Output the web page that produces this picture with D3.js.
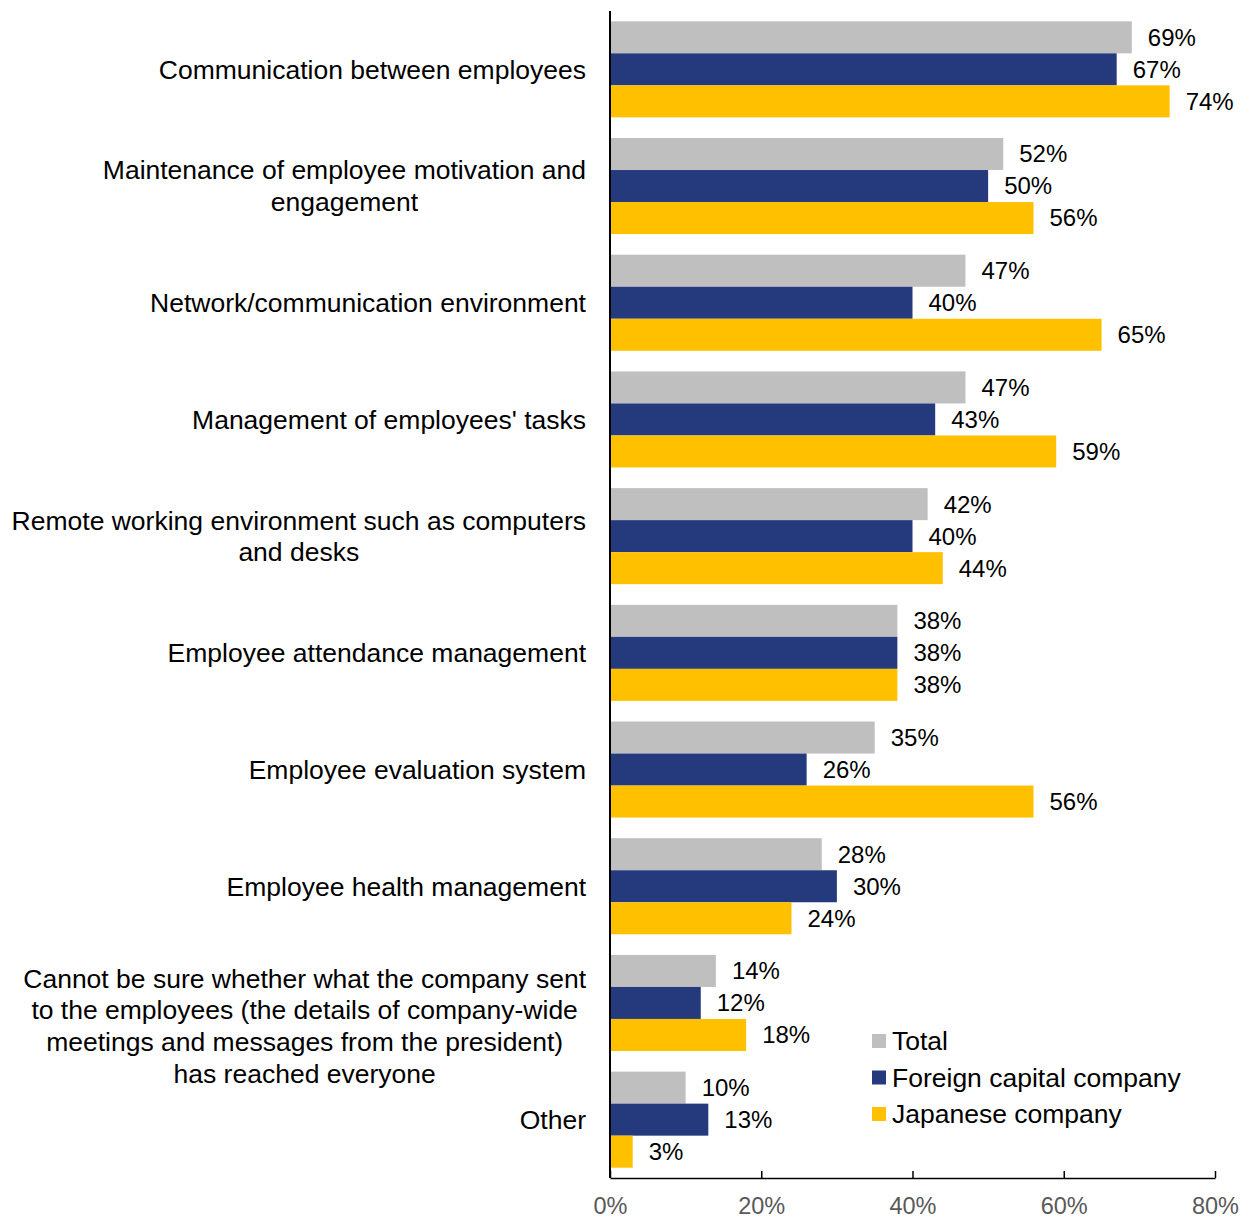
<!DOCTYPE html>
<html>
<head>
<meta charset="utf-8">
<script src="https://cdn.jsdelivr.net/npm/d3@7"></script>
<style>
  html, body { margin: 0; padding: 0; background: #fff; }
  svg { display: block; font-family: "Liberation Sans", Arial, sans-serif; }
</style>
</head>
<body>
<svg id="chart" width="1252" height="1218"></svg>
<script>
// Issues with remote working, by company type (share of respondents)
const categories = [
  ["Communication between employees"],
  ["Maintenance of employee motivation and", "engagement"],
  ["Network/communication environment"],
  ["Management of employees' tasks"],
  ["Remote working environment such as computers", "and desks"],
  ["Employee attendance management"],
  ["Employee evaluation system"],
  ["Employee health management"],
  ["Cannot be sure whether what the company sent", "to the employees (the details of company-wide", "meetings and messages from the president)", "has reached everyone"],
  ["Other"]
];
const seriesNames = ["Total", "Foreign capital company", "Japanese company"];
const totalValues    = [69, 52, 47, 47, 42, 38, 35, 28, 14, 10];
const foreignValues  = [67, 50, 40, 43, 40, 38, 26, 30, 12, 13];
const japaneseValues = [74, 56, 65, 59, 44, 38, 56, 24, 18, 3];
const seriesColors = ["#BFBFBF", "#243A7D", "#FFC000"];
const xTicks = [0, 20, 40, 60, 80];

const svg = d3.select("#chart");
const plot = { left: 610, right: 1215, top: 11, bottom: 1178 };
const labelFont = 26.5;

const catKeys = categories.map((c, i) => "c" + i);
const seriesValues = [totalValues, foreignValues, japaneseValues];

const x = d3.scaleLinear().domain([0, 80]).range([plot.left, plot.right]);
const y = d3.scaleBand().domain(catKeys).range([plot.top, plot.bottom])
  .paddingInner(0.177).paddingOuter(0.0885);
const ySub = d3.scaleBand().domain(seriesNames).range([0, y.bandwidth()]).padding(0);

// bars with value labels
const groups = svg.append("g").selectAll("g")
  .data(catKeys)
  .join("g")
  .attr("transform", k => `translate(0,${y(k)})`);

groups.each(function(k, i) {
  const g = d3.select(this);
  seriesNames.forEach((s, j) => {
    const v = seriesValues[j][i];
    g.append("rect")
      .attr("x", x(0))
      .attr("y", ySub(s))
      .attr("width", x(v) - x(0))
      .attr("height", ySub.bandwidth())
      .attr("fill", seriesColors[j]);
    g.append("text")
      .attr("x", x(v) + 16)
      .attr("y", ySub(s) + ySub.bandwidth() / 2)
      .attr("dy", "0.35em")
      .attr("font-size", 24)
      .attr("fill", "#000")
      .text(v + "%");
  });
});

// category labels: lines centred on each other, block right-aligned to the axis
const labelRight = 586;
const lineH = 31.7;
categories.forEach((lines, i) => {
  const g = svg.append("g");
  const texts = lines.map(l => g.append("text")
    .attr("font-size", labelFont).attr("fill", "#000").attr("text-anchor", "middle").text(l));
  const maxW = d3.max(texts, t => t.node().getComputedTextLength());
  const cx = labelRight - maxW / 2;
  const center = y(catKeys[i]) + y.bandwidth() / 2 + (lines.length > 2 ? 23 : 0);
  const top = center - (lines.length - 1) * lineH / 2;
  texts.forEach((t, n) => t.attr("x", cx).attr("y", top + n * lineH).attr("dy", "0.35em"));
});

// axes
const xAxis = d3.axisBottom(x).tickValues(xTicks).tickFormat(d => d + "%")
  .tickSizeInner(-7).tickSizeOuter(0).tickPadding(19);
const gx = svg.append("g").attr("transform", `translate(0,${plot.bottom})`).call(xAxis);
gx.select(".domain").attr("stroke", "#000").attr("stroke-width", 1.5);
gx.selectAll(".tick line").attr("stroke", "#000").attr("stroke-width", 1.5);
gx.selectAll(".tick text").attr("font-size", 23.5).attr("fill", "#595959")
  .attr("font-family", "'Liberation Sans', Arial, sans-serif");

svg.append("line")
  .attr("x1", x(0)).attr("x2", x(0))
  .attr("y1", plot.top).attr("y2", plot.bottom)
  .attr("stroke", "#000").attr("stroke-width", 2);

// legend
const legend = svg.append("g").attr("transform", "translate(872,1041)");
seriesNames.forEach((s, j) => {
  const row = legend.append("g").attr("transform", `translate(0,${j * 36.5})`);
  row.append("rect").attr("x", 0).attr("y", -7).attr("width", 14).attr("height", 14).attr("fill", seriesColors[j]);
  row.append("text").attr("x", 20).attr("y", 0).attr("dy", "0.35em")
    .attr("font-size", labelFont).attr("fill", "#000").text(s);
});
</script>
</body>
</html>
